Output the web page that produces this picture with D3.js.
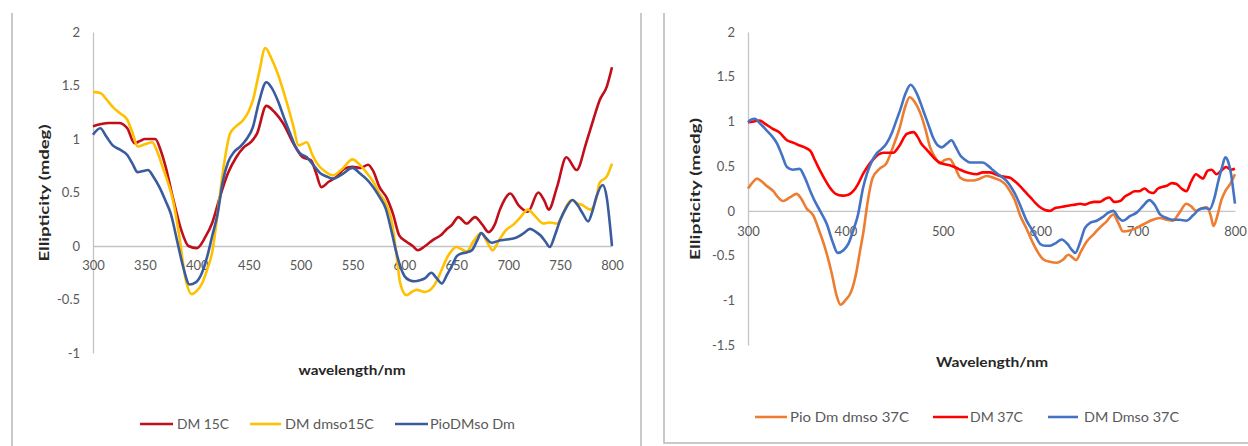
<!DOCTYPE html>
<html><head><meta charset="utf-8">
<script src="https://cdn.jsdelivr.net/npm/d3@7"></script>
<style>body{margin:0;background:#fff}svg{display:block}</style>
</head><body>
<svg id="c" width="1248" height="446"></svg>
<script>
// ---------- DATA ----------
const xTickLabels = [300, 350, 400, 450, 500, 550, 600, 650, 700, 750, 800];
const xTickLabelsRight = [300, 400, 500, 600, 700, 800];
const yTickLabelsLeft = [-1, -0.5, 0, 0.5, 1, 1.5, 2];
const yTickLabelsRight = [-1.5, -1, -0.5, 0, 0.5, 1, 1.5, 2];

const seriesNamesLeft = ["DM 15C", "DM dmso15C", "PioDMso Dm"];
const seriesNamesRight = ["Pio Dm dmso 37C", "DM 37C", "DM Dmso 37C"];

// [wavelength nm, ellipticity]
const dm15C = [[300,1.12],[308,1.14],[315,1.15],[325,1.15],[333,1.1],[340,0.96],[345,0.98],[350,1.0],[355,1.0],[360,1.0],[365,0.9],[370,0.74],[377,0.45],[385,0.15],[392,0.0],[400,-0.02],[408,0.08],[415,0.22],[422,0.45],[430,0.68],[438,0.83],[445,0.92],[452,0.97],[458,1.05],[467,1.31],[475,1.25],[483,1.15],[493,0.96],[502,0.83],[510,0.8],[515,0.68],[520,0.55],[527,0.6],[535,0.65],[542,0.72],[550,0.74],[558,0.73],[565,0.76],[570,0.7],[576,0.55],[583,0.45],[589,0.3],[595,0.1],[602,0.04],[608,0.0],[613,-0.04],[620,0.0],[628,0.06],[635,0.1],[640,0.15],[646,0.2],[652,0.27],[660,0.21],[668,0.27],[675,0.2],[681,0.13],[687,0.2],[692,0.34],[702,0.49],[710,0.38],[719,0.32],[729,0.5],[735,0.42],[739,0.34],[747,0.55],[756,0.83],[766,0.71],[775,0.96],[782,1.18],[788,1.36],[795,1.49],[800,1.67]];
const dmDmso15C = [[300,1.44],[307,1.43],[313,1.37],[319,1.3],[326,1.24],[333,1.18],[338,1.06],[343,0.93],[350,0.95],[357,0.97],[362,0.88],[367,0.74],[372,0.6],[377,0.43],[383,0.1],[389,-0.3],[395,-0.45],[400,-0.42],[405,-0.35],[410,-0.22],[415,-0.05],[420,0.3],[426,0.75],[432,1.05],[438,1.12],[445,1.18],[450,1.26],[454,1.36],[460,1.62],[466,1.85],[472,1.75],[478,1.61],[487,1.33],[493,1.12],[498,0.94],[506,0.97],[511,0.86],[516,0.77],[523,0.7],[531,0.66],[540,0.72],[550,0.81],[557,0.76],[564,0.68],[570,0.6],[576,0.49],[582,0.4],[588,0.22],[592,-0.05],[596,-0.35],[602,-0.46],[607,-0.43],[612,-0.41],[620,-0.43],[626,-0.4],[631,-0.33],[636,-0.22],[640,-0.13],[645,-0.05],[650,-0.01],[655,-0.03],[660,-0.05],[667,0.05],[674,0.12],[680,0.03],[685,-0.04],[691,0.05],[698,0.15],[705,0.2],[711,0.26],[719,0.34],[724,0.3],[734,0.21],[740,0.22],[747,0.21],[752,0.28],[756,0.37],[761,0.43],[766,0.4],[772,0.38],[779,0.34],[785,0.45],[788,0.59],[795,0.65],[800,0.77]];
const pioDMsoDm = [[300,1.04],[307,1.1],[313,1.02],[319,0.94],[326,0.9],[333,0.85],[338,0.77],[343,0.69],[348,0.7],[353,0.71],[358,0.65],[364,0.55],[370,0.42],[375,0.3],[381,0.05],[387,-0.2],[393,-0.36],[399,-0.34],[405,-0.25],[410,-0.1],[415,0.1],[420,0.3],[425,0.6],[430,0.78],[436,0.88],[442,0.93],[448,1.0],[454,1.11],[460,1.35],[467,1.53],[472,1.48],[478,1.36],[484,1.2],[490,1.05],[495,0.93],[499,0.87],[506,0.83],[512,0.76],[519,0.68],[525,0.65],[531,0.63],[540,0.67],[550,0.73],[557,0.68],[564,0.62],[570,0.55],[576,0.46],[582,0.35],[588,0.12],[592,-0.05],[596,-0.19],[600,-0.28],[605,-0.32],[610,-0.33],[615,-0.32],[620,-0.3],[626,-0.25],[631,-0.3],[636,-0.35],[641,-0.27],[646,-0.18],[650,-0.1],[655,-0.07],[660,-0.06],[665,-0.04],[670,0.05],[674,0.12],[679,0.07],[684,0.03],[691,0.05],[698,0.06],[708,0.08],[715,0.12],[721,0.16],[727,0.13],[731,0.1],[736,0.04],[740,-0.01],[745,0.1],[750,0.24],[756,0.36],[762,0.43],[767,0.38],[772,0.3],[777,0.23],[781,0.32],[785,0.46],[791,0.57],[795,0.45],[798,0.2],[800,0.0]];

const pioDmDmso37C = [[300,0.25],[305,0.32],[309,0.36],[315,0.32],[319,0.28],[326,0.22],[331,0.15],[336,0.11],[343,0.15],[350,0.19],[355,0.13],[360,0.03],[367,-0.05],[373,-0.22],[379,-0.41],[386,-0.7],[391,-0.95],[395,-1.05],[400,-1.0],[406,-0.9],[411,-0.7],[415,-0.45],[419,-0.2],[422,0.04],[428,0.37],[435,0.47],[442,0.53],[450,0.75],[456,0.94],[461,1.15],[466,1.27],[471,1.22],[477,1.09],[482,0.92],[487,0.71],[492,0.6],[497,0.53],[502,0.57],[507,0.58],[512,0.5],[518,0.37],[525,0.34],[531,0.34],[538,0.36],[545,0.39],[552,0.37],[559,0.34],[564,0.3],[569,0.22],[574,0.12],[579,-0.04],[586,-0.2],[593,-0.37],[598,-0.47],[603,-0.54],[610,-0.57],[617,-0.58],[623,-0.55],[629,-0.49],[633,-0.52],[637,-0.55],[642,-0.45],[648,-0.34],[655,-0.26],[661,-0.19],[668,-0.12],[675,-0.04],[680,-0.13],[685,-0.23],[692,-0.22],[699,-0.19],[706,-0.15],[713,-0.11],[718,-0.09],[723,-0.08],[730,-0.1],[736,-0.11],[743,-0.02],[750,0.08],[755,0.05],[760,0.0],[766,0.03],[771,0.04],[775,-0.05],[778,-0.17],[782,-0.05],[786,0.12],[790,0.22],[795,0.3],[800,0.41]];
const dm37C = [[300,0.99],[306,1.0],[312,1.01],[318,0.97],[325,0.92],[332,0.88],[340,0.79],[347,0.76],[353,0.73],[358,0.71],[364,0.67],[369,0.56],[374,0.45],[379,0.35],[384,0.26],[390,0.19],[397,0.17],[403,0.18],[408,0.22],[413,0.3],[418,0.41],[423,0.5],[429,0.58],[434,0.63],[439,0.65],[444,0.65],[449,0.65],[455,0.72],[463,0.86],[470,0.88],[474,0.83],[478,0.75],[483,0.69],[487,0.64],[492,0.58],[497,0.54],[502,0.52],[507,0.51],[512,0.49],[516,0.47],[522,0.44],[528,0.42],[535,0.41],[541,0.43],[548,0.43],[554,0.41],[559,0.39],[564,0.38],[569,0.37],[574,0.33],[579,0.28],[584,0.22],[590,0.15],[595,0.09],[600,0.04],[605,0.01],[610,0.0],[615,0.03],[620,0.04],[625,0.05],[630,0.06],[636,0.07],[641,0.08],[646,0.07],[651,0.09],[656,0.1],[661,0.1],[666,0.13],[671,0.15],[676,0.1],[682,0.11],[687,0.16],[692,0.19],[697,0.22],[702,0.22],[707,0.25],[712,0.21],[716,0.2],[721,0.25],[726,0.27],[730,0.28],[735,0.31],[740,0.3],[745,0.25],[750,0.22],[755,0.33],[760,0.41],[764,0.38],[767,0.36],[772,0.45],[776,0.46],[781,0.41],[786,0.45],[791,0.49],[796,0.46],[800,0.47]];
const dmDmso37C = [[300,0.99],[303,1.02],[307,1.03],[313,0.97],[319,0.9],[325,0.83],[330,0.75],[335,0.62],[340,0.49],[346,0.46],[353,0.47],[358,0.38],[364,0.22],[369,0.1],[374,0.0],[381,-0.15],[387,-0.35],[392,-0.47],[398,-0.44],[403,-0.37],[408,-0.22],[413,-0.04],[418,0.25],[422,0.41],[427,0.55],[432,0.64],[437,0.69],[442,0.75],[448,0.88],[452,1.0],[456,1.12],[462,1.32],[467,1.41],[473,1.32],[480,1.12],[485,0.97],[490,0.82],[495,0.73],[499,0.71],[504,0.75],[509,0.79],[513,0.72],[518,0.62],[523,0.57],[528,0.54],[535,0.54],[541,0.54],[547,0.5],[552,0.45],[558,0.4],[565,0.34],[571,0.25],[576,0.15],[581,0.02],[586,-0.11],[591,-0.2],[596,-0.3],[600,-0.37],[605,-0.39],[610,-0.39],[616,-0.36],[622,-0.32],[628,-0.37],[632,-0.43],[636,-0.47],[641,-0.35],[646,-0.19],[652,-0.13],[658,-0.11],[664,-0.07],[670,-0.02],[675,0.0],[680,-0.07],[685,-0.11],[692,-0.06],[699,-0.02],[706,0.06],[712,0.12],[718,0.06],[723,-0.04],[730,-0.08],[736,-0.1],[743,-0.1],[750,-0.11],[757,-0.05],[764,0.02],[770,0.03],[774,0.02],[779,0.15],[783,0.34],[787,0.5],[790,0.6],[793,0.55],[796,0.41],[798,0.25],[800,0.08]];

// ---------- DRAW ----------
const svg = d3.select("#c");
const FONT = "Lato, 'Open Sans', sans-serif";
const TXT = "#595959";
const AX = "#c4c4c4";

// panel frames
const frame = svg.append("g").attr("stroke", "#b8b8b8").attr("stroke-width", 1.5).attr("fill", "none");
frame.append("line").attr("x1", 12).attr("x2", 12).attr("y1", 13).attr("y2", 446);
frame.append("line").attr("x1", 641).attr("x2", 641).attr("y1", 13).attr("y2", 446);
frame.append("path").attr("d", "M664,13 L664,443 L1248,443");

function panel(cfg) {
  const g = svg.append("g");
  const x = d3.scaleLinear().domain([300, 800]).range(cfg.xr);
  const y = d3.scaleLinear().domain(cfg.yd).range(cfg.yr);

  const ya = g.append("g").attr("transform", `translate(${cfg.xr[0]},0)`)
    .call(d3.axisLeft(y).tickValues(cfg.yTicks).tickSize(0).tickSizeOuter(0).tickPadding(13)
      .tickFormat(d => String(d)));
  const xa = g.append("g").attr("transform", `translate(0,${y(0)})`)
    .call(d3.axisBottom(x).tickValues(cfg.xTicks).tickSize(0).tickSizeOuter(0).tickPadding(cfg.xPad)
      .tickFormat(d => String(d)));
  [ya, xa].forEach(a => {
    a.select(".domain").attr("stroke", AX).attr("stroke-width", 1.3);
    a.selectAll("text").attr("fill", TXT).style("font-family", FONT).style("font-size", "13px");
  });

  const line = d3.line().x(d => x(d[0])).y(d => y(d[1])).curve(d3.curveMonotoneX);
  cfg.series.forEach(s => {
    g.append("path").datum(s.data).attr("d", line).attr("fill", "none")
      .attr("stroke", s.color).attr("stroke-width", 2.6).attr("stroke-linejoin", "round");
  });

  // axis titles
  g.append("text").attr("transform", `translate(${cfg.yTitle.x},${cfg.yTitle.y}) rotate(-90)`)
    .attr("text-anchor", "middle").attr("dy", "0.35em").attr("fill", "#262626")
    .style("font-family", FONT).style("font-weight", "bold").style("font-size", "13.5px")
    .attr("textLength", cfg.yTitle.len).attr("lengthAdjust", "spacingAndGlyphs")
    .text(cfg.yTitle.text);
  g.append("text").attr("x", cfg.xTitle.x).attr("y", cfg.xTitle.y)
    .attr("text-anchor", "middle").attr("dy", "0.35em").attr("fill", "#262626")
    .style("font-family", FONT).style("font-weight", "bold").style("font-size", "14px")
    .attr("textLength", cfg.xTitle.len).attr("lengthAdjust", "spacingAndGlyphs")
    .text(cfg.xTitle.text);

  // legend
  const lg = g.append("g");
  cfg.series.forEach((s, i) => {
    const L = cfg.legend[i];
    lg.append("line").attr("x1", L.x1).attr("x2", L.x2).attr("y1", cfg.legendY).attr("y2", cfg.legendY)
      .attr("stroke", s.color).attr("stroke-width", 2.6);
    lg.append("text").attr("x", L.tx).attr("y", cfg.legendY).attr("dy", "0.35em")
      .attr("fill", TXT).style("font-family", FONT).style("font-size", "13.5px")
      .attr("textLength", L.len).attr("lengthAdjust", "spacingAndGlyphs")
      .text(s.name);
  });
}

panel({
  xr: [93, 612], yd: [-1, 2], yr: [353, 32], xPad: 15,
  xTicks: xTickLabels, yTicks: yTickLabelsLeft,
  series: [
    {name: seriesNamesLeft[0], color: "#C00F1A", data: dm15C},
    {name: seriesNamesLeft[1], color: "#FFC000", data: dmDmso15C},
    {name: seriesNamesLeft[2], color: "#3A5C9E", data: pioDMsoDm}
  ],
  yTitle: {x: 44, y: 193, len: 137, text: "Ellipticity (mdeg)"},
  xTitle: {x: 352, y: 370, len: 107, text: "wavelength/nm"},
  legendY: 424,
  legend: [{x1: 140, x2: 173, tx: 177, len: 52}, {x1: 250, x2: 281, tx: 285, len: 89}, {x1: 395, x2: 428, tx: 430, len: 85}]
});

panel({
  xr: [748, 1235], yd: [-1.5, 2], yr: [345, 32], xPad: 16,
  xTicks: xTickLabelsRight, yTicks: yTickLabelsRight,
  series: [
    {name: seriesNamesRight[0], color: "#ED7D31", data: pioDmDmso37C},
    {name: seriesNamesRight[1], color: "#FF0000", data: dm37C},
    {name: seriesNamesRight[2], color: "#4472C4", data: dmDmso37C}
  ],
  yTitle: {x: 695, y: 189, len: 142, text: "Ellipticity (medg)"},
  xTitle: {x: 992, y: 362, len: 112, text: "Wavelength/nm"},
  legendY: 417,
  legend: [{x1: 755, x2: 787, tx: 790, len: 119}, {x1: 933, x2: 968, tx: 970, len: 53}, {x1: 1048, x2: 1078, tx: 1084, len: 95}]
});
</script>
</body></html>
